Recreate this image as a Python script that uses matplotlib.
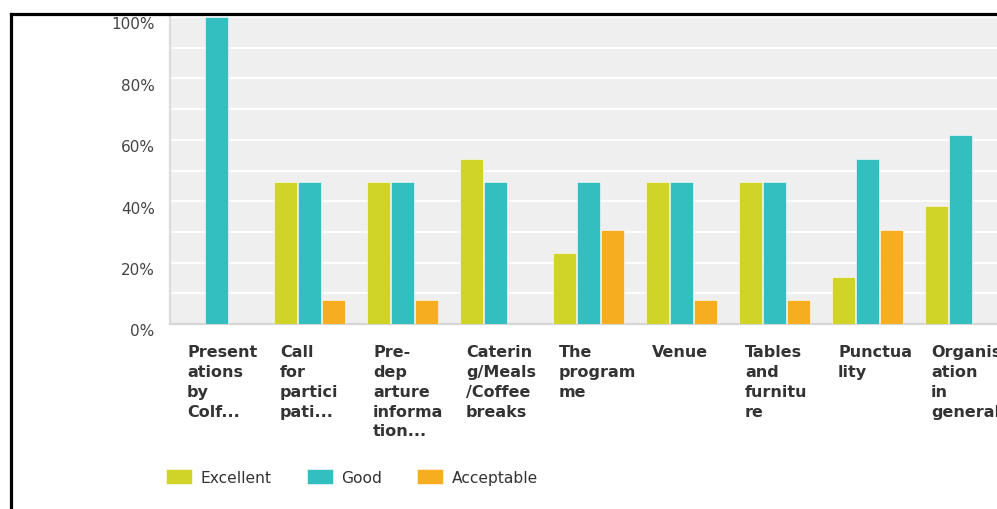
import numpy as np
import matplotlib
matplotlib.use("Agg")
import matplotlib.pyplot as plt
from matplotlib.lines import Line2D
from matplotlib.patches import FancyBboxPatch
from matplotlib.legend_handler import HandlerPatch
from matplotlib.ticker import MultipleLocator, FuncFormatter
import matplotlib.transforms as mtransforms

plt.rcParams['font.family'] = ['DejaVu Sans']

# survey answers, share of respondents in %
categories = ["Present\nations\nby\nColf...", "Call\nfor\npartici\npati...",
              "Pre-\ndep\narture\ninforma\ntion...", "Caterin\ng/Meals\n/Coffee\nbreaks",
              "The\nprogram\nme", "Venue", "Tables\nand\nfurnitu\nre",
              "Punctua\nlity", "Organis\nation\nin\ngeneral"]
excellent = [0, 46.15, 46.15, 53.85, 23.08, 46.15, 46.15, 15.38, 38.46]
good = [100, 46.15, 46.15, 46.15, 46.15, 46.15, 46.15, 53.85, 61.54]
acceptable = [0, 7.69, 7.69, 0, 30.77, 7.69, 7.69, 30.77, 0]
series_names = ["Excellent", "Good", "Acceptable"]
colors = ["#cfd427", "#33bec0", "#f6ae20"]

W, H = 997, 510
fig = plt.figure(figsize=(W / 100, H / 100), dpi=100)
# plot area runs past the right edge, like the cropped original
ax = fig.add_axes([170 / W, (H - 325) / H, 837 / W, 307 / H])
ax.set_facecolor("#efefef")

x = np.arange(len(categories))
bw = 0.247
step = 0.263
for k, (vals, name) in enumerate(zip([excellent, good, acceptable], series_names)):
    ax.bar(x + (k - 1) * step, vals, width=bw, color=colors[k], label=name,
           edgecolor="#ffffff", linewidth=0.4, zorder=3)

ax.set_xlim(-0.5, len(categories) - 0.5)
ax.set_ylim(0, 100)
ax.yaxis.set_major_locator(MultipleLocator(20))
ax.yaxis.set_minor_locator(MultipleLocator(10))
ax.yaxis.set_major_formatter(FuncFormatter(lambda v, p: f"{v:.0f}%"))
ax.grid(axis="y", which="both", color="white", linewidth=1.3, zorder=1)
ax.tick_params(axis="y", which="both", length=0, pad=11, labelsize=11, labelcolor="#444444")
# labels hang just below their gridline
shift = mtransforms.ScaledTranslation(0, 0.5 / 72, fig.dpi_scale_trans)
for lbl in ax.get_yticklabels():
    lbl.set_verticalalignment("top")
    lbl.set_transform(lbl.get_transform() + shift)
ax.set_xticks([])
for s in ["top", "right"]:
    ax.spines[s].set_visible(False)
ax.spines["bottom"].set_color("#d6d6d6")
ax.spines["bottom"].set_linewidth(1.6)
ax.spines["left"].set_color("#dcdcdc")
ax.spines["left"].set_linewidth(1.6)

# wrapped category names under each group
trans = ax.get_xaxis_transform()
for i, lab in enumerate(categories):
    ax.text(i - 0.317, -0.066, lab, transform=trans, ha="left", va="top",
            fontsize=11.5, fontweight="bold", color="#333333", linespacing=1.4)


def rounded_patch(legend, orig_handle, xdescent, ydescent, width, height, fontsize):
    return FancyBboxPatch((-xdescent + 1, -ydescent + 1), width - 2, height - 2,
                          boxstyle="round,pad=1,rounding_size=2.5")


fig.legend(loc="center left", bbox_to_anchor=(152 / W, (H - 478) / H), ncol=3,
           frameon=False, fontsize=11.2, handlelength=1.68, handleheight=1.1,
           handletextpad=0.52, columnspacing=2.28, labelcolor="#333333",
           handler_map={matplotlib.patches.Rectangle: HandlerPatch(patch_func=rounded_patch)})

# black frame on the left and top
fig.add_artist(Line2D([11 / W, 11 / W], [0, (H - 15) / H], color="black", linewidth=2.3,
                      transform=fig.transFigure, solid_capstyle="projecting"))
fig.add_artist(Line2D([11 / W, 1], [(H - 15) / H, (H - 15) / H], color="black", linewidth=2.3,
                      transform=fig.transFigure, solid_capstyle="projecting"))

fig.savefig("out.png", dpi=100)
